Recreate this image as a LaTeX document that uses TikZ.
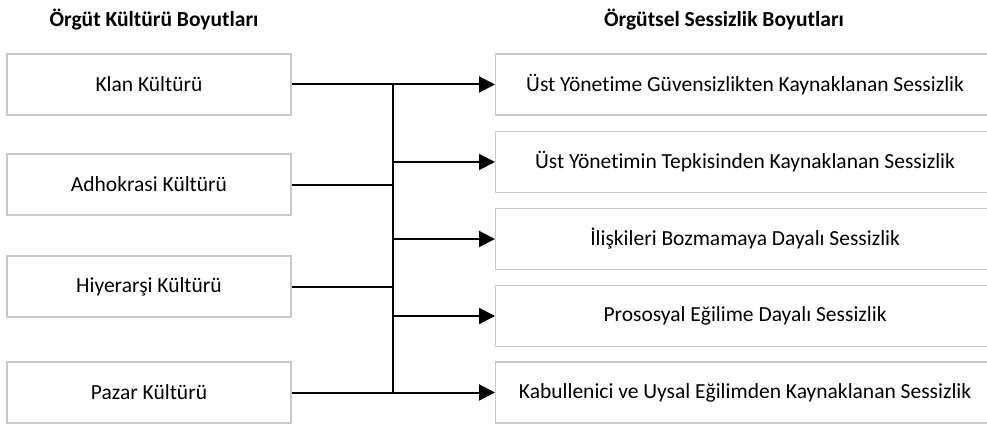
\documentclass[tikz,border=0pt]{standalone}
\usepackage{fontspec}
\setmainfont{Carlito}[Ligatures={NoCommon}]
\usepackage{xcolor}
\usetikzlibrary{arrows.meta}
\definecolor{boxgray}{RGB}{200,200,200}

\begin{document}
\begin{tikzpicture}[x=1pt,y=-1pt]
\tikzset{>={Triangle[width=16pt,length=16pt]}}
\tikzstyle{kbox} =[draw=boxgray,line width=1.2pt,minimum width=284pt,minimum height=61pt,inner sep=0pt,font=\fontsize{21.5}{24}\selectfont]
\tikzstyle{sbox} =[kbox,minimum width=499pt]
\tikzstyle{baslik} =[font=\fontsize{21.5}{24}\selectfont\bfseries]

\useasboundingbox (0,0) rectangle (987,425);

\node[baslik](t1) at (154,20){Örgüt Kültürü Boyutları};
\node[baslik](t2) at (724,20){Örgütsel Sessizlik Boyutları};

\node[kbox](k1) at (149,84.5){Klan Kültürü};
\node[kbox](k2) at (149,184.5){Adhokrasi Kültürü};
\node[kbox](k3) at (149,286.5){Hiyerarşi Kültürü};
\node[kbox](k4) at (149,392.5){Pazar Kültürü};

\node[sbox,anchor=west](s1) at (495,84.5){Üst Yönetime Güvensizlikten Kaynaklanan Sessizlik};
\node[sbox,anchor=west](s2) at (495,162){Üst Yönetimin Tepkisinden Kaynaklanan Sessizlik};
\node[sbox,anchor=west](s3) at (495,239){İlişkileri Bozmamaya Dayalı Sessizlik};
\node[sbox,anchor=west](s4) at (495,316){Prososyal Eğilime Dayalı Sessizlik};
\node[sbox,anchor=west](s5) at (495,392.5){Kabullenici ve Uysal Eğilimden Kaynaklanan Sessizlik};

\coordinate (bt) at (393,84.5);
\coordinate (bb) at (393,392.5);

\draw [line width=2pt] (k1.east) -- (bt);
\draw [line width=2pt] (k2.east) -- (k2.east -| bt);
\draw [line width=2pt] (k3.east) -- (k3.east -| bt);
\draw [line width=2pt] (k4.east) -- (bb);
\draw [line width=2pt] (bt) -- (bb);

\draw [->,line width=2pt] (bt) -- (s1.west);
\draw [->,line width=2pt] (s2.west -| bt) -- (s2.west);
\draw [->,line width=2pt] (s3.west -| bt) -- (s3.west);
\draw [->,line width=2pt] (s4.west -| bt) -- (s4.west);
\draw [->,line width=2pt] (bb) -- (s5.west);
\end{tikzpicture}
\end{document}
